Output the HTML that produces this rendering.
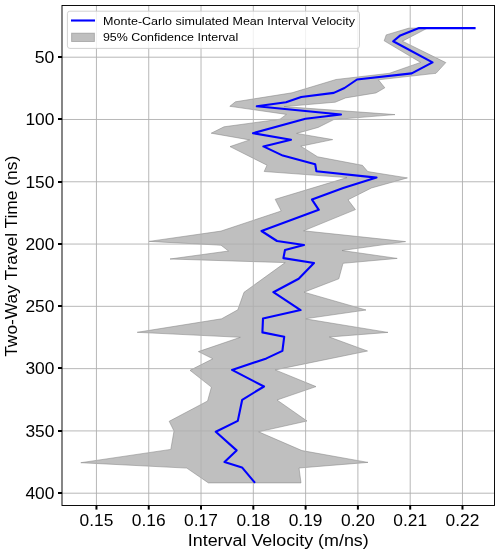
<!DOCTYPE html>
<html><head><meta charset="utf-8"><style>
html,body{margin:0;padding:0;background:#fff;width:500px;height:554px;overflow:hidden}
svg{display:block;will-change:transform}
text{font-family:"Liberation Sans",sans-serif;fill:#000}
</style></head><body>
<svg width="500" height="554" viewBox="0 0 500 554">
<rect x="0" y="0" width="500" height="554" fill="#fff"/>
<polygon points="409.0,28.1 386.2,34.9 384.2,40.8 420.6,62.4 389.4,73.3 336.0,79.5 292.0,92.8 235.4,101.8 229.8,106.3 286.4,114.4 280.0,119.2 224.0,126.8 211.2,133.2 249.6,139.9 230.0,146.6 267.0,165.2 264.2,171.5 347.0,177.6 275.2,199.3 281.2,211.0 221.0,231.1 149.0,241.4 221.0,245.2 228.5,251.0 170.0,259.0 285.2,262.6 244.0,292.3 237.8,309.8 221.6,318.8 137.2,332.3 240.3,337.3 198.4,351.6 212.8,358.8 190.0,370.3 211.4,387.1 207.6,401.0 169.2,421.3 174.0,431.0 170.8,449.4 80.8,462.7 186.8,468.1 208.4,482.9 301.0,482.9 299.0,468.0 368.0,462.4 302.0,450.6 258.6,431.8 307.0,421.0 277.0,400.0 316.0,386.6 275.2,369.9 367.5,351.0 329.3,337.0 388.0,332.4 305.0,318.8 366.0,310.0 304.0,292.2 338.8,278.8 343.0,263.3 397.2,258.4 342.0,250.5 405.6,241.6 303.6,230.8 355.4,209.6 348.0,199.8 371.4,188.0 407.4,177.9 367.8,171.6 362.4,165.3 317.6,156.8 300.8,146.2 332.7,139.6 296.6,133.4 318.2,127.4 333.8,119.6 395.0,114.6 284.0,106.6 335.2,102.2 345.6,97.9 376.0,92.9 384.8,87.8 378.4,79.8 436.0,73.3 445.8,62.6 402.4,41.2 427.5,28.1" fill="#808080" fill-opacity="0.5" stroke="#808080" stroke-opacity="0.5" stroke-width="1" stroke-linejoin="miter"/>
<g stroke="#b0b0b0" stroke-width="1.0" stroke-opacity="0.9">
<line x1="96.45" y1="5.5" x2="96.45" y2="505.5"/>
<line x1="148.74" y1="5.5" x2="148.74" y2="505.5"/>
<line x1="201.03" y1="5.5" x2="201.03" y2="505.5"/>
<line x1="253.32" y1="5.5" x2="253.32" y2="505.5"/>
<line x1="305.61" y1="5.5" x2="305.61" y2="505.5"/>
<line x1="357.90" y1="5.5" x2="357.90" y2="505.5"/>
<line x1="410.19" y1="5.5" x2="410.19" y2="505.5"/>
<line x1="462.48" y1="5.5" x2="462.48" y2="505.5"/>
<line x1="62.0" y1="57.20" x2="494.5" y2="57.20"/>
<line x1="62.0" y1="119.49" x2="494.5" y2="119.49"/>
<line x1="62.0" y1="181.77" x2="494.5" y2="181.77"/>
<line x1="62.0" y1="244.06" x2="494.5" y2="244.06"/>
<line x1="62.0" y1="306.34" x2="494.5" y2="306.34"/>
<line x1="62.0" y1="368.63" x2="494.5" y2="368.63"/>
<line x1="62.0" y1="430.91" x2="494.5" y2="430.91"/>
<line x1="62.0" y1="493.20" x2="494.5" y2="493.20"/>
</g>
<polyline points="475.6,28.1 419.0,28.1 400.3,35.4 393.2,41.3 432.5,62.4 411.7,73.4 357.0,79.5 344.5,88.0 333.8,92.9 301.2,97.0 286.0,102.2 256.8,106.3 341.0,114.5 305.5,118.7 253.0,133.2 291.0,139.8 263.4,146.4 282.8,155.6 315.2,164.2 316.4,171.2 376.5,177.6 343.2,187.9 312.0,199.6 318.8,209.8 261.5,231.0 277.0,241.0 304.0,245.0 285.0,250.0 283.4,258.1 314.0,263.0 298.7,278.8 273.4,292.2 300.6,310.1 263.0,318.6 262.4,332.4 284.2,336.8 282.4,350.9 266.4,358.4 232.0,369.9 264.0,386.5 242.2,399.8 237.8,420.9 215.8,431.8 236.6,450.4 224.5,462.1 242.0,467.4 255.0,482.9" fill="none" stroke="#0000ff" stroke-width="2.1" stroke-linejoin="round" stroke-linecap="butt"/>
<rect x="62.0" y="5.5" width="432.50" height="500.00" fill="none" stroke="#000" stroke-width="0.95"/>
<g stroke="#000" stroke-width="2">
<line x1="96.45" y1="505.5" x2="96.45" y2="509.6"/>
<line x1="148.74" y1="505.5" x2="148.74" y2="509.6"/>
<line x1="201.03" y1="505.5" x2="201.03" y2="509.6"/>
<line x1="253.32" y1="505.5" x2="253.32" y2="509.6"/>
<line x1="305.61" y1="505.5" x2="305.61" y2="509.6"/>
<line x1="357.90" y1="505.5" x2="357.90" y2="509.6"/>
<line x1="410.19" y1="505.5" x2="410.19" y2="509.6"/>
<line x1="462.48" y1="505.5" x2="462.48" y2="509.6"/>
<line x1="58" y1="57.00" x2="62.0" y2="57.00"/>
<line x1="58" y1="119.00" x2="62.0" y2="119.00"/>
<line x1="58" y1="182.00" x2="62.0" y2="182.00"/>
<line x1="58" y1="244.00" x2="62.0" y2="244.00"/>
<line x1="58" y1="306.00" x2="62.0" y2="306.00"/>
<line x1="58" y1="368.00" x2="62.0" y2="368.00"/>
<line x1="58" y1="431.00" x2="62.0" y2="431.00"/>
<line x1="58" y1="493.00" x2="62.0" y2="493.00"/>
</g>
<g font-size="16">
<text x="96.45" y="525.8" text-anchor="middle" textLength="33.8" lengthAdjust="spacingAndGlyphs">0.15</text>
<text x="148.74" y="525.8" text-anchor="middle" textLength="33.8" lengthAdjust="spacingAndGlyphs">0.16</text>
<text x="201.03" y="525.8" text-anchor="middle" textLength="33.8" lengthAdjust="spacingAndGlyphs">0.17</text>
<text x="253.32" y="525.8" text-anchor="middle" textLength="33.8" lengthAdjust="spacingAndGlyphs">0.18</text>
<text x="305.61" y="525.8" text-anchor="middle" textLength="33.8" lengthAdjust="spacingAndGlyphs">0.19</text>
<text x="357.90" y="525.8" text-anchor="middle" textLength="33.8" lengthAdjust="spacingAndGlyphs">0.20</text>
<text x="410.19" y="525.8" text-anchor="middle" textLength="33.8" lengthAdjust="spacingAndGlyphs">0.21</text>
<text x="462.48" y="525.8" text-anchor="middle" textLength="33.8" lengthAdjust="spacingAndGlyphs">0.22</text>
<text x="54.40" y="63.10" text-anchor="end" textLength="19.6" lengthAdjust="spacingAndGlyphs">50</text>
<text x="54.40" y="125.10" text-anchor="end" textLength="29.0" lengthAdjust="spacingAndGlyphs">100</text>
<text x="54.40" y="188.10" text-anchor="end" textLength="29.0" lengthAdjust="spacingAndGlyphs">150</text>
<text x="54.40" y="250.10" text-anchor="end" textLength="29.0" lengthAdjust="spacingAndGlyphs">200</text>
<text x="54.40" y="312.10" text-anchor="end" textLength="29.0" lengthAdjust="spacingAndGlyphs">250</text>
<text x="54.40" y="374.10" text-anchor="end" textLength="29.0" lengthAdjust="spacingAndGlyphs">300</text>
<text x="54.40" y="437.10" text-anchor="end" textLength="29.0" lengthAdjust="spacingAndGlyphs">350</text>
<text x="54.40" y="499.10" text-anchor="end" textLength="29.0" lengthAdjust="spacingAndGlyphs">400</text>
</g>
<text x="278.25" y="545.8" font-size="16" text-anchor="middle" textLength="181" lengthAdjust="spacingAndGlyphs">Interval Velocity (m/ns)</text>
<text transform="translate(17.1,256.3) rotate(-90)" x="0" y="0" font-size="16" text-anchor="middle" textLength="201" lengthAdjust="spacingAndGlyphs">Two-Way Travel Time (ns)</text>
<rect x="67.4" y="11.2" width="292.1" height="37.2" rx="2.5" ry="2.5" fill="#fff" fill-opacity="0.8" stroke="#cccccc" stroke-opacity="0.9" stroke-width="1"/>
<line x1="71" y1="20.5" x2="95" y2="20.5" stroke="#0000ff" stroke-width="2.1"/>
<rect x="71.6" y="33.2" width="22.8" height="8.3" fill="#808080" fill-opacity="0.5" stroke="#808080" stroke-opacity="0.5" stroke-width="1"/>
<text x="103.1" y="24.6" font-size="11.3" textLength="251.8" lengthAdjust="spacingAndGlyphs">Monte-Carlo simulated Mean Interval Velocity</text>
<text x="102.9" y="41.4" font-size="11.3" textLength="135.3" lengthAdjust="spacingAndGlyphs">95% Confidence Interval</text>
</svg>
</body></html>
